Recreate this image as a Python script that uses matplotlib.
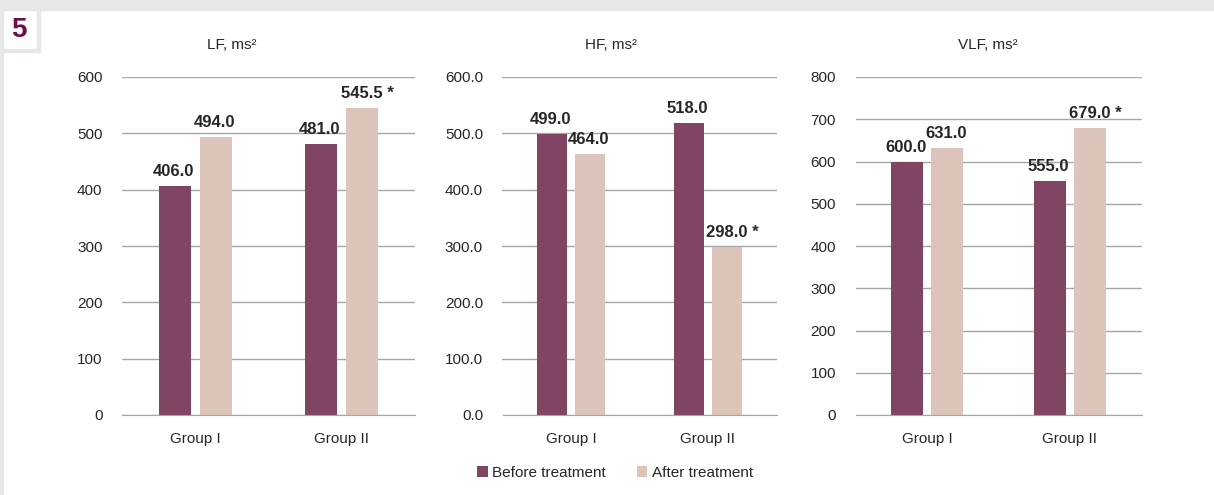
import matplotlib
matplotlib.use("Agg")
import matplotlib.pyplot as plt
from matplotlib import font_manager
from matplotlib.patches import Rectangle
import numpy as np

groups = ["Group I", "Group II"]
series_names = ["Before treatment", "After treatment"]

lf_before = [406.0, 481.0]
lf_after = [494.0, 545.5]
hf_before = [499.0, 518.0]
hf_after = [464.0, 298.0]
vlf_before = [600.0, 555.0]
vlf_after = [631.0, 679.0]

lf_marks_after = ["", " *"]
hf_marks_after = ["", " *"]
vlf_marks_after = ["", " *"]

titles = ["LF, ms²", "HF, ms²", "VLF, ms²"]
yticks_lf = [0, 100, 200, 300, 400, 500, 600]
yticks_hf = [0, 100, 200, 300, 400, 500, 600]
yticks_vlf = [0, 100, 200, 300, 400, 500, 600, 700, 800]

names = {f.name for f in font_manager.fontManager.ttflist}
narrow = "Liberation Sans Narrow" if "Liberation Sans Narrow" in names else "Liberation Sans"
plt.rcParams["font.family"] = [narrow, "DejaVu Sans"]

c_before = "#804562"
c_after = "#dcc4ba"
grid_c = "#a6a6a6"
bg_gray = "#e6e7e9"
text_c = "#262626"

W, H = 1214, 495
fig = plt.figure(figsize=(W / 100, H / 100), dpi=100)
fig.patch.set_facecolor("white")

# frame decorations
fig.add_artist(Rectangle((0, 1 - 10 / H), 1, 10 / H, transform=fig.transFigure, color=bg_gray, zorder=0))
fig.add_artist(Rectangle((0, 0), 3 / W, 1, transform=fig.transFigure, color=bg_gray, zorder=0))
fig.add_artist(Rectangle((37 / W, 1 - 52 / H), 3 / W, 42 / H, transform=fig.transFigure, color=bg_gray, zorder=0))
fig.add_artist(Rectangle((3 / W, 1 - 52 / H), 37 / W, 3 / H, transform=fig.transFigure, color=bg_gray, zorder=0))
fig.text(19 / W, 1 - 30 / H, "5", color="#6e1048", fontsize=20, fontweight="bold",
         ha="center", va="center", family=["Liberation Sans", "DejaVu Sans"])

panels = [
    (122, 293, lf_before, lf_after, lf_marks_after, yticks_lf, 600, "{:.0f}", 232),
    (502.5, 274, hf_before, hf_after, hf_marks_after, yticks_hf, 600, "{:.1f}", 611),
    (855.5, 286, vlf_before, vlf_after, vlf_marks_after, yticks_vlf, 800, "{:.0f}", 988),
]

top_px, bot_px = 77, 415
x = np.arange(len(groups))
bw = 0.22
off = 0.14

for i, (lpx, wpx, before, after, marks, yt, ymax, fmt, tx) in enumerate(panels):
    ax = fig.add_axes([lpx / W, 1 - bot_px / H, wpx / W, (bot_px - top_px) / H])
    ax.set_xlim(-0.5, 1.5)
    ax.set_ylim(0, ymax)
    ax.bar(x - off, before, bw, color=c_before, zorder=3, label=series_names[0])
    ax.bar(x + off, after, bw, color=c_after, zorder=3, label=series_names[1])
    ax.set_yticks(yt)
    ax.set_yticklabels([fmt.format(v) for v in yt])
    ax.set_xticks(x)
    ax.set_xticklabels(groups)
    ax.tick_params(axis="both", length=0, labelsize=11, colors=text_c)
    ax.tick_params(axis="y", pad=14)
    ax.tick_params(axis="x", pad=12)
    ax.yaxis.grid(True, color=grid_c, linewidth=1.0, zorder=0)
    for s in ["top", "right", "left"]:
        ax.spines[s].set_visible(False)
    ax.spines["bottom"].set_color(grid_c)
    ax.spines["bottom"].set_zorder(4)
    for j in range(len(groups)):
        ax.annotate(f"{before[j]:.1f}", (x[j] - off, before[j]), xytext=(-1, 5),
                    textcoords="offset points", ha="center", va="bottom",
                    fontsize=12, fontweight="bold", color=text_c, zorder=5)
        lab = f"{after[j]:.1f}{marks[j]}"
        shift = 4 if marks[j] else -1
        ax.annotate(lab, (x[j] + off, after[j]), xytext=(shift, 5),
                    textcoords="offset points", ha="center", va="bottom",
                    fontsize=12, fontweight="bold", color=text_c, zorder=5)
    fig.text(tx / W, 1 - 45 / H, titles[i], ha="center", va="center", fontsize=11, color=text_c)
    if i == 1:
        handles, labels = ax.get_legend_handles_labels()

fig.legend(handles, labels, loc="center", bbox_to_anchor=(615 / W, 1 - 473 / H), ncol=2,
           frameon=False, fontsize=11, handlelength=0.7, handleheight=0.7,
           handletextpad=0.3, columnspacing=2.0, labelcolor=text_c)

fig.savefig("out.png", dpi=100)
